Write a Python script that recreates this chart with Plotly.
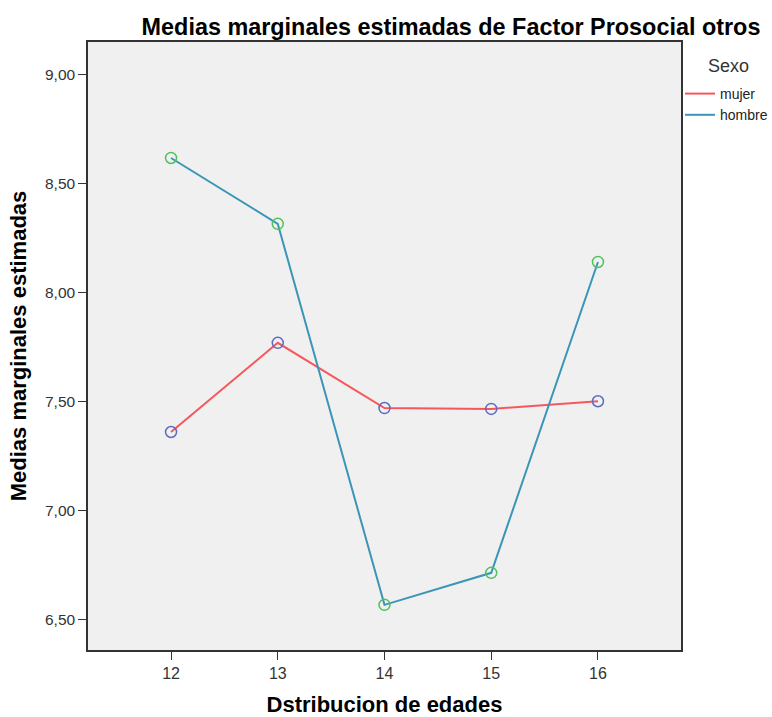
import plotly.graph_objects as go

edades = [12, 13, 14, 15, 16]
mujer = [7.362, 7.771, 7.472, 7.468, 7.503]
hombre = [8.619, 8.317, 6.569, 6.716, 8.142]
y_ticks = [6.5, 7.0, 7.5, 8.0, 8.5, 9.0]
y_tick_labels = ["6,50", "7,00", "7,50", "8,00", "8,50", "9,00"]

FONT = "Liberation Sans, Arial, sans-serif"
W, H = 772, 717
ML, MR, MT, MB = 88, 91, 42, 67
pw = W - ML - MR
ph = H - MT - MB

fig = go.Figure()
fig.add_trace(go.Scatter(x=edades, y=mujer, mode="lines", name="mujer",
                         line=dict(color="#f5575c", width=2)))
fig.add_trace(go.Scatter(x=edades, y=hombre, mode="lines", name="hombre",
                         line=dict(color="#3b95b6", width=2)))
fig.add_trace(go.Scatter(x=edades, y=mujer, mode="markers", showlegend=False,
                         marker=dict(symbol="circle-open", size=11, color="#5b6cc4",
                                     line=dict(width=1.5, color="#5b6cc4"))))
fig.add_trace(go.Scatter(x=edades, y=hombre, mode="markers", showlegend=False,
                         marker=dict(symbol="circle-open", size=11, color="#4fc25a",
                                     line=dict(width=1.5, color="#4fc25a"))))

fig.update_layout(
    width=W, height=H,
    margin=dict(l=ML, r=MR, t=MT, b=MB, autoexpand=False),
    paper_bgcolor="white", plot_bgcolor="#f0f0f0",
    font=dict(family=FONT, color="#222222"),
    title=dict(text="<b>Medias marginales estimadas de Factor Prosocial otros</b>",
               x=451/W, xref="container", xanchor="center",
               y=1 - 27/H, yref="container", yanchor="middle",
               font=dict(size=23.4, color="#000000", family=FONT)),
    legend=dict(x=680/W, xref="container", xanchor="left",
                y=1 - 78/H, yref="container", yanchor="top",
                font=dict(size=14, color="#222222"),
                bgcolor="rgba(0,0,0,0)", tracegroupgap=0, itemwidth=30),
    showlegend=True,
    annotations=[dict(text="Sexo", x=(728 - ML) / pw, xref="paper", xanchor="center",
                      y=1 - (66 - MT) / ph, yref="paper", yanchor="middle",
                      showarrow=False, font=dict(size=18, color="#333333"))],
)

fig.update_xaxes(range=[11.222, 16.778], tickvals=edades, ticktext=[str(e) for e in edades],
                 showgrid=False, zeroline=False, showline=True, linecolor="#333333", linewidth=1.5,
                 mirror=True, ticks="outside", ticklen=8, tickcolor="#333333", automargin=False,
                 tickfont=dict(size=16, color="#333333"),
                 title=dict(text="<b>Dstribucion de edades</b>", standoff=17,
                            font=dict(size=22, color="#000000")))
fig.update_yaxes(range=[6.362, 9.151], tickvals=y_ticks, ticktext=y_tick_labels,
                 showgrid=False, zeroline=False, showline=True, linecolor="#333333", linewidth=1.5,
                 mirror=True, ticks="outside", ticklen=8, tickcolor="#333333", automargin=False,
                 tickfont=dict(size=15.5, color="#333333"),
                 title=dict(text="<b>Medias marginales estimadas</b>", standoff=12,
                            font=dict(size=22, color="#000000")))

fig.write_html("out.html", config={"displayModeBar": False},
               post_script="document.body.style.margin='0px';")
